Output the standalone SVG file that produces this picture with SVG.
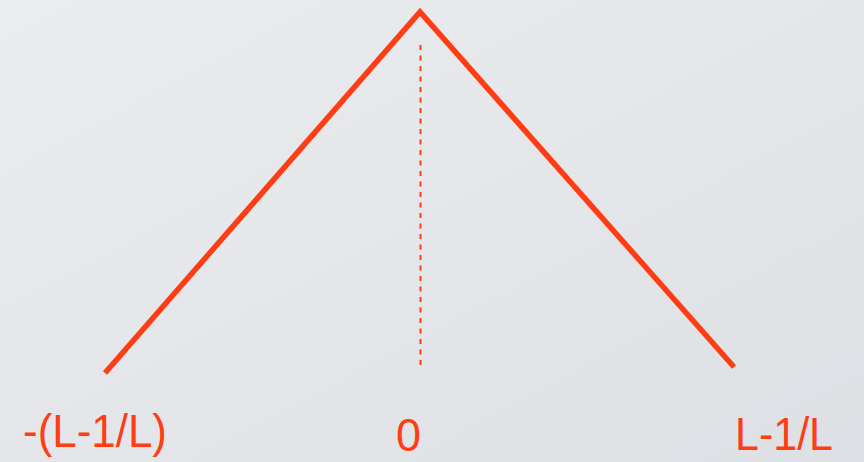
<svg xmlns="http://www.w3.org/2000/svg" width="864" height="462" viewBox="0 0 864 462">
<defs>
<linearGradient id="bg" x1="0" y1="0" x2="1" y2="1">
<stop offset="0" stop-color="#ebecee"/>
<stop offset="1" stop-color="#dde0e4"/>
</linearGradient>
<style>
.lbl{font-family:"Liberation Sans","DejaVu Sans",sans-serif;fill:#ff3d14;font-size:46px}
</style>
</defs>
<rect width="864" height="462" fill="url(#bg)"/>
<g id="connectors">
<polyline points="105,373 420,12 734,367" fill="none" stroke="#ff3d14" stroke-width="5.5" stroke-linejoin="miter"/>
<line x1="420.5" y1="45" x2="420.5" y2="368" stroke="#ff3d14" stroke-width="2" stroke-dasharray="5,5.5"/>
</g>
<g id="label-left"><text class="lbl" x="23" y="447" textLength="144" lengthAdjust="spacingAndGlyphs">-(L-1/L)</text></g>
<g id="label-zero"><text class="lbl" x="396" y="451" font-size="42" textLength="25" lengthAdjust="spacingAndGlyphs">0</text></g>
<g id="label-right"><text class="lbl" x="735" y="450" textLength="98" lengthAdjust="spacingAndGlyphs">L-1/L</text></g>
</svg>
